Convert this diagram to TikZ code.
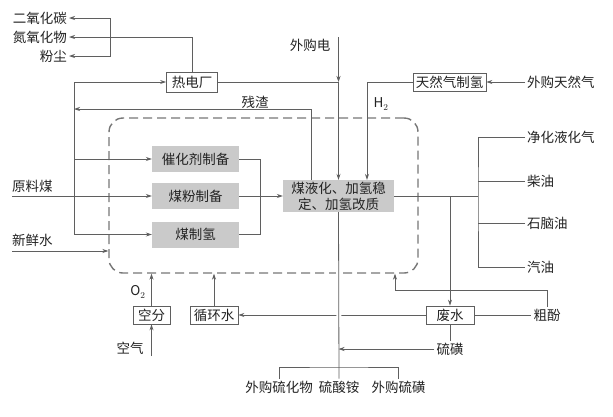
\documentclass[tikz,border=0pt]{standalone}
\usepackage{fontspec}
\setmainfont{Noto Sans CJK SC}
\usetikzlibrary{arrows.meta, positioning, calc}
\definecolor{linecolor}{RGB}{95,95,95}
\definecolor{boxcolor}{RGB}{202,202,202}
\definecolor{textcolor}{RGB}{35,35,35}
\begin{document}
\begin{tikzpicture}[
    x=1pt, y=-1pt,
    every node/.style={font=\fontsize{13.5}{16}\selectfont, text=textcolor},
    unit/.style={draw=linecolor, thick, fill=white, minimum height=18pt, inner sep=1.5pt},
    block/.style={fill=boxcolor, minimum width=87pt, minimum height=26pt, inner sep=1.5pt},
    tag/.style={inner sep=2pt},
    flow/.style={draw=linecolor, thick, -{Stealth[length=6pt,width=4pt]}},
    pipe/.style={draw=linecolor, thick}
]
    \path[use as bounding box, fill=white] (0,0) rectangle (613,416);

    % Liquefaction zone
    \node[draw=linecolor!85, line width=1.4pt, dash pattern=on 9pt off 5pt, rounded corners=14pt,
          minimum width=309pt, minimum height=155pt, inner sep=0pt] (zone) at (263.5,195.5) {};

    % Units
    \node[unit, minimum width=51pt, minimum height=20pt] (rdc) at (192,82) {热电厂};
    \node[unit, minimum width=73pt] (trq) at (449.5,82) {天然气制氢};
    \node[block] (chj) at (195.5,159) {催化剂制备};
    \node[block] (mfz) at (195.5,196) {煤粉制备};
    \node[block] (mzq) at (195.5,234.5) {煤制氢};
    \node[block, minimum width=111pt, minimum height=32pt, align=center] (myh) at (338.5,196)
        {煤液化、加氢稳\\定、加氢改质};
    \node[unit, minimum width=37pt] (kf) at (151.5,315) {空分};
    \node[unit, minimum width=48pt] (xhs) at (214,315) {循环水};
    \node[unit, minimum width=48pt] (fs) at (450,315) {废水};

    % Streams
    \node[tag, anchor=east] (co2) at (69,18) {二氧化碳};
    \node[tag, anchor=east] (nox) at (69,37) {氮氧化物};
    \node[tag, anchor=east] (fc) at (69,56) {粉尘};
    \node[tag] (wgd) at (310,45) {外购电};
    \node[tag] (zz) at (255,102) {残渣};
    \node[tag] (h2) at (381,104) {$\mathrm{H}_2$};
    \node[tag, anchor=west] (wgt) at (525,82) {外购天然气};
    \node[tag, anchor=west] (ylm) at (10,186) {原料煤};
    \node[tag, anchor=west] (xxs) at (10,240) {新鲜水};
    \node[tag, anchor=west] (jh) at (525,137) {净化液化气};
    \node[tag, anchor=west] (cy) at (525,181) {柴油};
    \node[tag, anchor=west] (sny) at (525,223) {石脑油};
    \node[tag, anchor=west] (qy) at (525,267) {汽油};
    \node[tag] (cf) at (547,315) {粗酚};
    \node[tag] (lh) at (450,349) {硫磺};
    \node[tag] (o2) at (138,292) {$\mathrm{O}_2$};
    \node[tag] (kq) at (130,348) {空气};
    \node[tag] (wgs) at (279,387) {外购硫化物};
    \node[tag] (lsa) at (339,387) {硫酸铵};
    \node[tag] (wgh) at (398.5,387) {外购硫磺};

    % Junctions
    \coordinate (ej) at (110,37);
    \coordinate (lb) at (74,234.5);
    \coordinate (zj) at (311,109);
    \coordinate (dw) at (338.5,37);
    \coordinate (hj) at (367,82);
    \coordinate (rj) at (260,196);
    \coordinate (pj) at (478,196);
    \coordinate (ylm0) at (12,196);
    \coordinate (xxs0) at (12,251);
    \coordinate (cfj) at (395,290);
    \coordinate (kq0) at (151.5,356);
    \coordinate (bj) at (339,367);

    % Power plant
    \draw[flow] (rdc.north) |- (nox.east);
    \draw[flow] (ej) |- (co2.east);
    \draw[flow] (ej) |- (fc.east);
    \draw[flow] (lb) |- (rdc.west);
    \draw[flow] (lb |- chj) -- (chj.west);
    \draw[flow] (lb) -- (mzq.west);
    \draw[flow] (myh.north -| zj) |- (lb |- zj);
    \draw[pipe] (rdc.east) -- (dw |- rdc);
    \draw[flow] (dw) -- (dw |- rdc);
    \draw[flow] (dw |- rdc) -- (myh.north);

    % Hydrogen
    \draw[flow] (wgt.west) -- (trq.east);
    \draw[pipe] (trq.west) -- (hj);
    \draw[flow] (hj) -- (hj |- myh.north);

    % Feeds
    \draw[flow] (ylm0) -- (mfz.west);
    \draw[flow] (xxs0) -- (xxs0 -| zone.west);
    \draw[pipe] (chj.east) -| (rj);
    \draw[pipe] (mzq.east) -| (rj);
    \draw[flow] (mfz.east) -- (myh.west);

    % Products
    \draw[pipe] (myh.east) -- (pj);
    \draw[pipe] (jh.west) -| (pj) |- (qy.west);
    \draw[pipe] (cy.west) -- (cy.west -| pj);
    \draw[pipe] (sny.west) -- (sny.west -| pj);

    % Water
    \draw[flow] (myh.east -| fs.north) -- (fs.north);
    \draw[pipe] (fs.east) -- (cf.west);
    \draw[flow] (cf.north) |- (cfj) -- (cfj |- zone.south);
    \draw[flow] (fs.west) -- (xhs.east);
    \draw[flow] (xhs.north) -- (xhs.north |- zone.south);
    \draw[flow] (kf.north) -- (kf.north |- zone.south);
    \draw[flow] (kq0) -- (kf.south);

    % Sulphur
    \draw[pipe, preaction={draw=white, line width=5pt}] (myh.south) -- (lsa.north);
    \draw[pipe] (fs.south) -- (lh.north);
    \draw[flow] (lh.west) -- (lh.west -| myh.south);
    \draw[pipe] (wgs.north) |- (bj) -| (wgh.north);
\end{tikzpicture}
\end{document}
